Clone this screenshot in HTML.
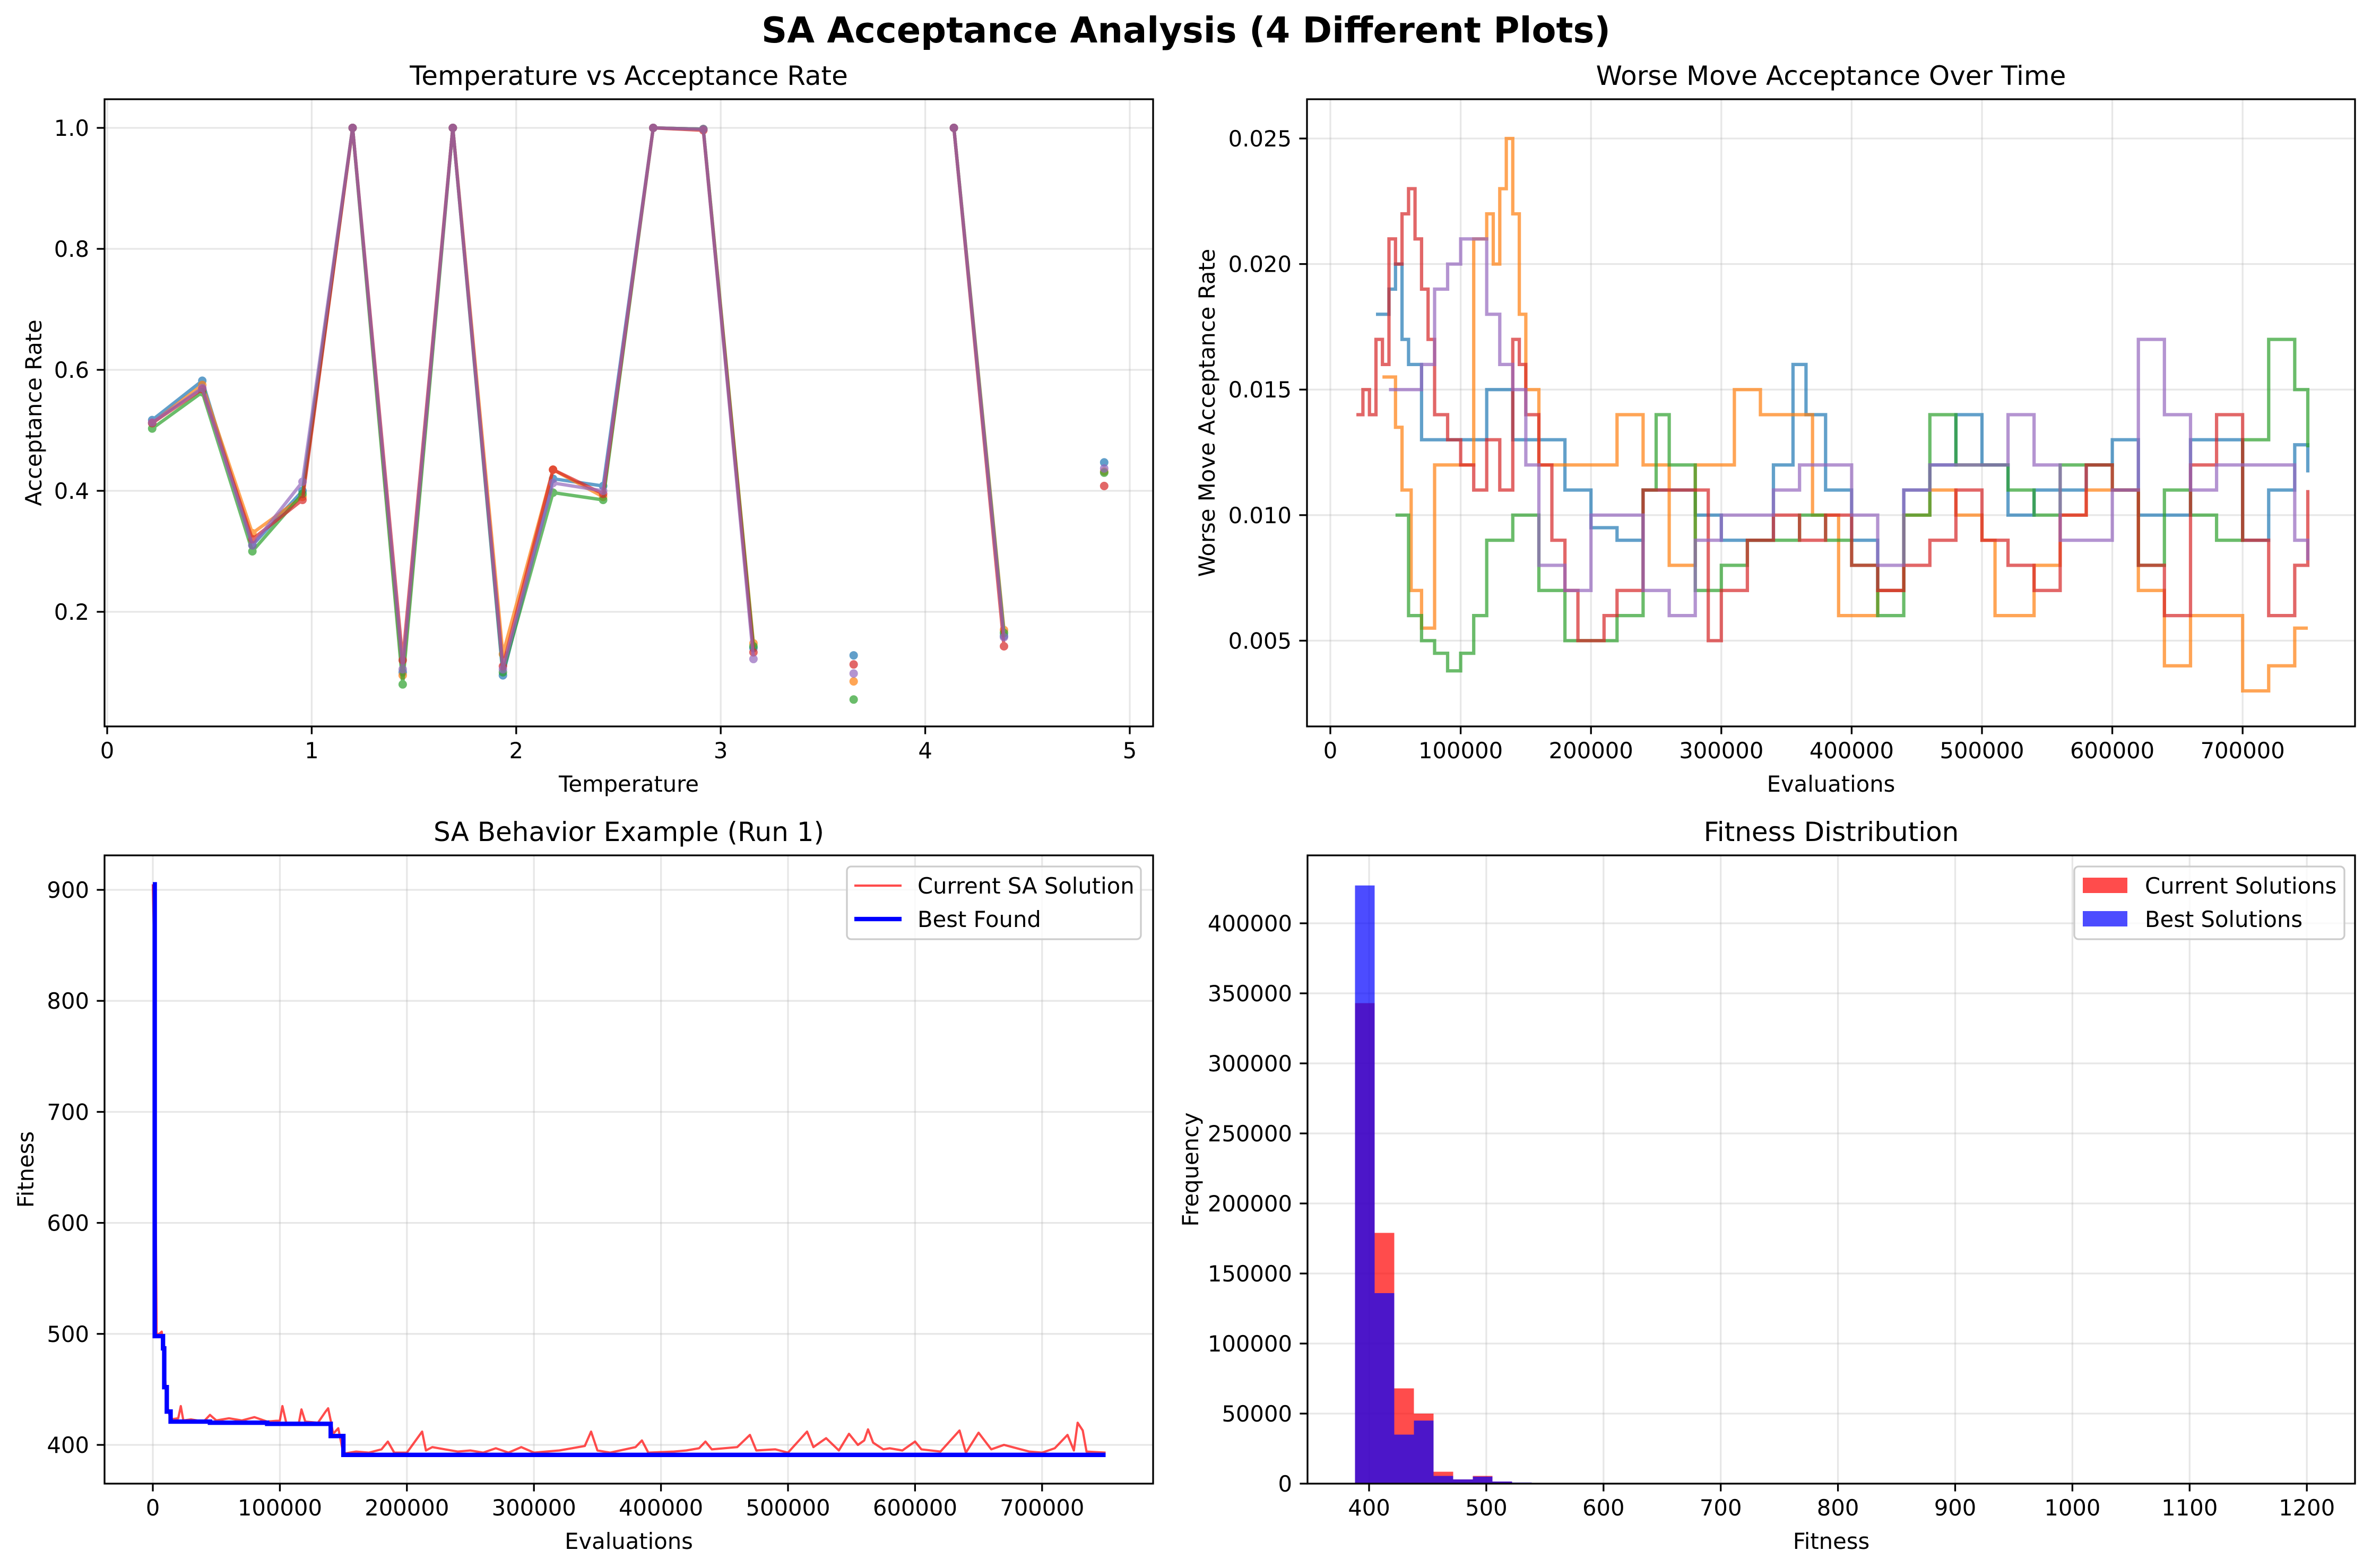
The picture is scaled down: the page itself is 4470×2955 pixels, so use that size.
<!DOCTYPE html>
<html><head><meta charset="utf-8">
<style>
html,body{margin:0;padding:0;background:#fff;}
svg{display:block;font-family:"DejaVu Sans","Liberation Sans",sans-serif;}
</style></head>
<body>
<svg id="fig" xmlns="http://www.w3.org/2000/svg" width="4470" height="2955" viewBox="0 0 4470 2955">
<rect x="0" y="0" width="4470" height="2955" fill="#ffffff"/>
<text x="2235" y="80" text-anchor="middle" font-size="67" font-weight="bold">SA Acceptance Analysis (4 Different Plots)</text>
</svg>
<script>
// ---------- Panel 1 data ----------
const temps = [0.22,0.465,0.71,0.955,1.2,1.445,1.69,1.935,2.18,2.425,2.67,2.915,3.16,3.405,3.65,3.895,4.14,4.385,4.63,4.875];
const accBlue   = [0.517,0.582,0.31,0.40,1.0,0.10,1.0,0.095,0.42,0.408,1.0,0.998,0.14,null,0.128,null,1.0,0.16,null,0.447];
const accOrange = [0.512,0.575,0.33,0.39,1.0,0.095,1.0,0.13,0.435,0.39,1.0,0.998,0.148,null,0.085,null,1.0,0.17,null,0.432];
const accGreen  = [0.503,0.563,0.30,0.395,1.0,0.08,1.0,0.10,0.397,0.385,1.0,0.998,0.143,null,0.055,null,1.0,0.165,null,0.43];
const accRed    = [0.512,0.568,0.32,0.385,1.0,0.12,1.0,0.11,0.435,0.395,1.0,0.996,0.133,null,0.113,null,1.0,0.143,null,0.408];
const accPurple = [0.513,0.570,0.31,0.415,1.0,0.105,1.0,0.105,0.413,0.40,1.0,0.998,0.122,null,0.098,null,1.0,0.158,null,0.437];
const p1XTicks = [0,1,2,3,4,5];
const p1YTicks = [0.2,0.4,0.6,0.8,1.0];

// ---------- Panel 2 data (evaluations in thousands) ----------
const wmRedX = [20,25,30,35,40,45,50,55,60,65,70,75,80,90,100,110,120,130,140,145,150,160,170,180,190,200,210,220,240,260,280,290,300,320,340,360,380,400,420,440,460,480,500,520,540,560,580,600,620,640,660,680,700,720,740,750];
const wmRed  = [0.014,0.015,0.014,0.017,0.016,0.021,0.020,0.022,0.023,0.021,0.019,0.017,0.014,0.013,0.012,0.011,0.013,0.011,0.017,0.016,0.014,0.012,0.009,0.007,0.005,0.005,0.006,0.007,0.011,0.011,0.011,0.005,0.007,0.009,0.010,0.009,0.010,0.008,0.007,0.008,0.009,0.011,0.009,0.008,0.007,0.010,0.012,0.011,0.008,0.006,0.012,0.014,0.009,0.006,0.008,0.011];
const wmOrangeX = [40,50,55,62,70,80,100,110,120,125,130,135,140,145,150,160,180,200,220,240,260,280,300,310,330,350,370,390,400,420,440,460,480,500,510,520,540,560,580,600,620,640,660,680,700,720,740,750];
const wmOrange  = [0.0155,0.0135,0.011,0.007,0.0055,0.012,0.012,0.021,0.022,0.020,0.023,0.025,0.022,0.018,0.015,0.012,0.012,0.012,0.014,0.012,0.008,0.012,0.012,0.015,0.014,0.014,0.010,0.006,0.006,0.007,0.010,0.011,0.010,0.009,0.006,0.006,0.008,0.010,0.011,0.011,0.007,0.004,0.006,0.006,0.003,0.004,0.0055,0.0055];
const wmBlueX = [35,45,50,55,60,70,80,100,120,140,160,180,200,220,240,260,280,300,320,340,355,365,380,400,420,440,460,480,500,520,540,560,580,600,620,640,660,680,700,720,740,750];
const wmBlue  = [0.018,0.019,0.020,0.017,0.016,0.013,0.013,0.013,0.015,0.013,0.013,0.011,0.0095,0.009,0.011,0.011,0.010,0.009,0.009,0.012,0.016,0.014,0.011,0.009,0.007,0.011,0.012,0.014,0.012,0.010,0.011,0.011,0.012,0.013,0.010,0.010,0.013,0.013,0.009,0.011,0.0128,0.0117];
const wmGreenX = [50,60,70,80,90,100,110,120,140,160,180,200,220,240,250,260,280,300,320,340,360,380,400,420,440,460,480,500,520,540,560,580,600,620,640,660,680,700,720,740,750];
const wmGreen  = [0.010,0.006,0.005,0.0045,0.0038,0.0045,0.006,0.009,0.010,0.007,0.005,0.005,0.006,0.011,0.014,0.012,0.007,0.008,0.009,0.009,0.010,0.009,0.008,0.006,0.010,0.014,0.012,0.012,0.011,0.010,0.012,0.012,0.011,0.008,0.011,0.010,0.009,0.013,0.017,0.015,0.0127];
const wmPurpleX = [45,60,70,80,90,100,110,120,130,140,150,160,180,200,220,240,260,280,300,320,340,360,380,400,420,440,460,480,500,520,540,560,580,600,620,640,660,680,700,720,740,750];
const wmPurple  = [0.015,0.015,0.016,0.019,0.020,0.021,0.021,0.018,0.016,0.015,0.012,0.008,0.007,0.010,0.010,0.007,0.006,0.009,0.010,0.010,0.011,0.012,0.012,0.010,0.008,0.011,0.012,0.012,0.012,0.014,0.012,0.009,0.009,0.011,0.017,0.014,0.011,0.012,0.012,0.012,0.009,0.0082];
const p2XTicks = [0,100000,200000,300000,400000,500000,600000,700000];
const p2YTicks = [0.005,0.010,0.015,0.020,0.025];

// ---------- Panel 3 data (evaluations in thousands) ----------
const curX = [0,1,2,3,5,7,8,10,12,14,20,22,24,30,40,45,50,60,70,80,90,100,102,105,115,117,120,130,136,138,140,142,146,150,160,170,180,185,190,200,212,215,220,230,240,250,260,270,280,290,300,320,330,340,345,350,360,380,385,390,410,420,430,435,440,460,470,475,490,500,515,520,530,540,548,555,560,563,567,575,580,590,600,605,620,635,640,650,660,670,690,700,710,720,725,728,732,735,750];
const curFit = [905,850,650,500,500,502,490,455,432,423,424,435,422,423,421,427,422,424,422,425,421,422,435,420,420,432,421,420,430,433,422,410,415,392,394,393,396,403,393,393,412,395,398,396,394,395,393,397,393,398,393,395,397,399,412,395,393,398,404,393,394,395,397,403,396,398,409,395,396,393,412,398,406,395,410,400,404,414,402,396,397,395,403,396,394,413,393,411,396,400,394,393,397,409,395,420,413,394,393];
const bestX = [0,1.5,8,9,11,14,45,90,140,150,750];
const bestFit = [905,498,487,452,430,421,420,419,408,391,391];
const p3XTicks = [0,100000,200000,300000,400000,500000,600000,700000];
const p3YTicks = [400,500,600,700,800,900];

// ---------- Panel 4 data ----------
const binStart = 388;
const binWidth = 16.75;
const histCurrent = [343000,179000,68000,50000,8500,3000,5500,1500,700,300,150,100];
const histBest    = [427000,136000,35000,45000,5500,3000,5000,1500,800,500,200,100];
const p4XTicks = [400,500,600,700,800,900,1000,1100,1200];
const p4YTicks = [0,50000,100000,150000,200000,250000,300000,350000,400000];

const NS = "http://www.w3.org/2000/svg";
const svg = document.getElementById('fig');
function mk(tag, attrs, parent){
  const e = document.createElementNS(NS, tag);
  for (const k in attrs) e.setAttribute(k, attrs[k]);
  (parent||svg).appendChild(e);
  return e;
}
function txt(s, attrs, parent){ const e = mk('text', attrs, parent); e.textContent = s; return e; }

function axes(name, L, R, T, B, xs, ys, xTicks, yTicks, xLab, yLab, title, xFmt, yFmt, yLabX){
  const g = mk('g', {});
  
  
  xTicks.forEach(v=>{ const x = xs(v);
    const l = mk('line',{x1:x,x2:x,y1:T,y2:B,stroke:'#b0b0b0','stroke-width':3.3,'stroke-opacity':0.3},g);
    
    
  });
  yTicks.forEach(v=>{ const y = ys(v);
    const l = mk('line',{x1:L,x2:R,y1:y,y2:y,stroke:'#b0b0b0','stroke-width':3.3,'stroke-opacity':0.3},g);
    
    
  });
  const plot = mk('g', {}, g);
  
  
  const fr = mk('g', {});
  
  
  mk('rect',{x:L,y:T,width:R-L,height:B-T,fill:'none',stroke:'#000','stroke-width':3.3},fr);
  xTicks.forEach(v=>{ const x = xs(v);
    mk('line',{x1:x,x2:x,y1:B,y2:B+14.6,stroke:'#000','stroke-width':3.3},fr);
    const t = txt(xFmt(v),{x:x,y:B+60,'text-anchor':'middle','font-size':41.7},fr);
    
    
  });
  yTicks.forEach(v=>{ const y = ys(v);
    mk('line',{x1:L-14.6,x2:L,y1:y,y2:y,stroke:'#000','stroke-width':3.3},fr);
    const t = txt(yFmt(v),{x:L-29,y:y+15,'text-anchor':'end','font-size':41.7},fr);
    
    
  });
  const xt = txt(xLab,{x:(L+R)/2,y:B+123,'text-anchor':'middle','font-size':41.7},fr);
  
  
  const cy = (T+B)/2;
  const yt = txt(yLab,{x:yLabX,y:cy,'text-anchor':'middle','font-size':41.7,transform:`rotate(-90 ${yLabX} ${cy})`},fr);
  
  
  const tt = txt(title,{x:(L+R)/2,y:T-27,'text-anchor':'middle','font-size':50},fr);
  
  
  return plot;
}

const colors = {blue:'#1f77b4',orange:'#ff7f0e',green:'#2ca02c',red:'#d62728',purple:'#9467bd'};

// ===== Panel 1 =====
{
  const L=197,R=2173,T=187,B=1369;
  const xs = v => 202 + v*385.4;
  const ys = v => 241 + (1-v)*1140;
  const plot = axes('temperature-vs-acceptance-panel',L,R,T,B,xs,ys,p1XTicks,p1YTicks,'Temperature','Acceptance Rate','Temperature vs Acceptance Rate',v=>String(v),v=>v.toFixed(1),78);
  const series = [['blue',accBlue],['orange',accOrange],['green',accGreen],['red',accRed],['purple',accPurple]];
  series.forEach(([c,vals])=>{
    const sg = mk('g',{opacity:0.7},plot);
    
    
    let d=''; let pen=false;
    vals.forEach((v,i)=>{
      if(v===null){pen=false;return;}
      d += (pen?'L':'M') + xs(temps[i]).toFixed(1)+','+ys(v).toFixed(1)+' ';
      pen=true;
    });
    mk('path',{d:d,fill:'none',stroke:colors[c],'stroke-width':6.25,'stroke-linejoin':'round'},sg);
    vals.forEach((v,i)=>{
      if(v===null) return;
      const m = mk('circle',{cx:xs(temps[i]),cy:ys(v),r:8,fill:colors[c]},sg);
      
      
    });
  });
}

// ===== Panel 2 =====
{
  const L=2463,R=4438,T=187,B=1369;
  const xs = v => 2507 + v/100000*245.6;
  const ys = v => 261 + (0.025-v)/0.005*236.6;
  const plot = axes('worse-move-acceptance-panel',L,R,T,B,xs,ys,p2XTicks,p2YTicks,'Evaluations','Worse Move Acceptance Rate','Worse Move Acceptance Over Time',v=>String(v),v=>v.toFixed(3),2289);
  const series = [['blue',wmBlueX,wmBlue],['orange',wmOrangeX,wmOrange],['green',wmGreenX,wmGreen],['red',wmRedX,wmRed],['purple',wmPurpleX,wmPurple]];
  series.forEach(([c,xsArr,vals])=>{
    let d='';
    vals.forEach((v,i)=>{
      const x = xs(xsArr[i]*1000), y = ys(v);
      if(i===0) d+='M'+x.toFixed(1)+','+y.toFixed(1);
      else d+=' V'+y.toFixed(1);
      if(i<vals.length-1) d+=' H'+xs(xsArr[i+1]*1000).toFixed(1);
    });
    const p = mk('path',{d:d,fill:'none',stroke:colors[c],'stroke-width':6.25,'stroke-opacity':0.7},plot);
    
    
  });
}

// ===== Panel 3 =====
{
  const L=197,R=2173,T=1612,B=2796;
  const xs = v => 288 + v/100000*239.4;
  const ys = v => 1677 + (900-v)/100*209.2;
  const plot = axes('sa-behavior-panel',L,R,T,B,xs,ys,p3XTicks,p3YTicks,'Evaluations','Fitness','SA Behavior Example (Run 1)',v=>String(v),v=>String(v),63);
  let d='';
  curFit.forEach((v,i)=>{ d += (i?'L':'M') + xs(curX[i]*1000).toFixed(1)+','+ys(v).toFixed(1)+' '; });
  const cp = mk('path',{d:d,fill:'none',stroke:'#ff0000','stroke-width':4.2,'stroke-opacity':0.7,'stroke-linejoin':'round'},plot);
  
  
  let d2='';
  bestFit.forEach((v,i)=>{
    const x = xs(bestX[i]*1000), y = ys(v);
    if(i===0) d2+='M'+x.toFixed(1)+','+y.toFixed(1);
    else d2+=' V'+y.toFixed(1);
    if(i<bestFit.length-1) d2+=' H'+xs(bestX[i+1]*1000).toFixed(1);
  });
  const bp = mk('path',{d:d2,fill:'none',stroke:'#0000ff','stroke-width':8.3},plot);
  
  
  const lg = mk('g',{});
  
  
  mk('rect',{x:1596,y:1633,width:554,height:137,rx:8,fill:'#fff','fill-opacity':0.8,stroke:'#cccccc','stroke-width':3.3},lg);
  mk('line',{x1:1610,x2:1699,y1:1669,y2:1669,stroke:'#ff0000','stroke-opacity':0.7,'stroke-width':4.2},lg);
  const t1 = txt('Current SA Solution',{x:1729,y:1684,'font-size':41.7},lg);
  
  
  mk('line',{x1:1610,x2:1699,y1:1732,y2:1732,stroke:'#0000ff','stroke-width':8.3},lg);
  const t2 = txt('Best Found',{x:1729,y:1747,'font-size':41.7},lg);
  
  
}

// ===== Panel 4 =====
{
  const L=2464,R=4438,T=1612,B=2796;
  const xs = v => 2580 + (v-400)*2.209;
  const ys = v => 2796 - v/100000*264;
  const plot = axes('fitness-distribution-panel',L,R,T,B,xs,ys,p4XTicks,p4YTicks,'Fitness','Frequency','Fitness Distribution',v=>String(v),v=>String(v),2258);
  histCurrent.forEach((v,i)=>{
    const x0 = xs(binStart+i*binWidth), x1 = xs(binStart+(i+1)*binWidth);
    const r = mk('rect',{x:x0,y:ys(v),width:x1-x0,height:ys(0)-ys(v),fill:'#ff0000','fill-opacity':0.7},plot);
    
    
  });
  histBest.forEach((v,i)=>{
    const x0 = xs(binStart+i*binWidth), x1 = xs(binStart+(i+1)*binWidth);
    const r = mk('rect',{x:x0,y:ys(v),width:x1-x0,height:ys(0)-ys(v),fill:'#0000ff','fill-opacity':0.7},plot);
    
    
  });
  const lg = mk('g',{});
  
  
  mk('rect',{x:3909,y:1633,width:509,height:137,rx:8,fill:'#fff','fill-opacity':0.8,stroke:'#cccccc','stroke-width':3.3},lg);
  mk('rect',{x:3925,y:1654,width:84,height:29,fill:'#ff0000','fill-opacity':0.7},lg);
  const t1 = txt('Current Solutions',{x:4042,y:1684,'font-size':41.7},lg);
  
  
  mk('rect',{x:3925,y:1717,width:84,height:29,fill:'#0000ff','fill-opacity':0.7},lg);
  const t2 = txt('Best Solutions',{x:4042,y:1747,'font-size':41.7},lg);
  
  
}
</script>
</body></html>
